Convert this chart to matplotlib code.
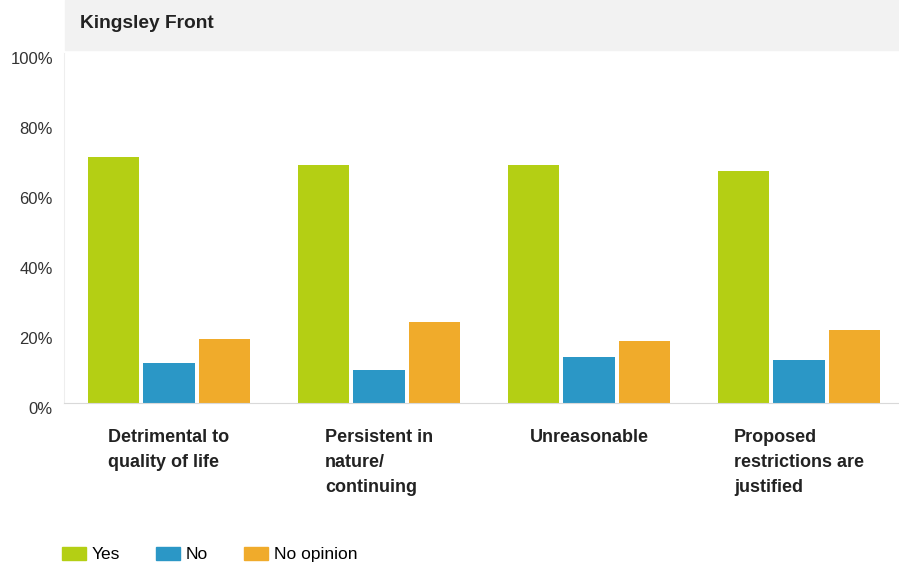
import matplotlib
matplotlib.use('Agg')
import matplotlib.pyplot as plt
import matplotlib.patches as mpatches
import matplotlib.transforms as mtransforms
import numpy as np

plt.rcParams['font.family'] = ['Liberation Sans', 'DejaVu Sans']

categories = ['Detrimental to\nquality of life', 'Persistent in\nnature/\ncontinuing',
              'Unreasonable', 'Proposed\nrestrictions are\njustified']
series_names = ['Yes', 'No', 'No opinion']
yes_vals = [70.3, 68.0, 68.0, 66.3]
no_vals = [11.4, 9.4, 13.1, 12.3]
noop_vals = [18.3, 23.1, 17.7, 20.9]
yticks = [0, 20, 40, 60, 80, 100]
ytick_labels = ['0%', '20%', '40%', '60%', '80%', '100%']

colors = ['#b4cf14', '#2b97c6', '#f0ab2b']

W, H = 899, 562
fig = plt.figure(figsize=(W / 100, H / 100), dpi=100)

# light gray header band
fig.patches.append(mpatches.Rectangle((65 / W, 1 - 50 / H), 1, 50 / H,
                                      transform=fig.transFigure, color='#f2f2f2', zorder=0))
fig.text(80 / W, 1 - 23 / H, 'Kingsley Front', fontsize=13.8, fontweight='bold',
         color='#222222', va='center', ha='left')

ax = fig.add_axes([64 / W, 1 - 403 / H, 1 - 64 / W, 350 / H])
x = np.arange(len(categories))
width = 0.245
offset = 0.265
for i, (vals, name) in enumerate(zip([yes_vals, no_vals, noop_vals], series_names)):
    ax.bar(x + (i - 1) * offset, vals, width, color=colors[i], label=name, zorder=2)

ax.set_xlim(-0.5, 3.476)
ax.set_ylim(0, 100)
ax.set_yticks(yticks)
ax.set_yticklabels(ytick_labels, fontsize=12, color='#333333')
ax.tick_params(axis='y', length=0, pad=8)
ax.tick_params(axis='x', length=0)
ax.set_xticks([])
shift = mtransforms.ScaledTranslation(0, -5 / 100, fig.dpi_scale_trans)
for lab in ax.get_yticklabels():
    lab.set_transform(lab.get_transform() + shift)

for s in ['top', 'right']:
    ax.spines[s].set_visible(False)
ax.spines['left'].set_color('#eeeeee')
ax.spines['bottom'].set_color('#d9d9d9')

for xi, cat in zip(x, categories):
    ax.text(xi, -7.3, cat, ha='center', va='top', multialignment='left',
            fontsize=13, fontweight='bold', color='#222222', linespacing=1.62)

handles = [mpatches.Patch(color=c) for c in colors]
fig.legend(handles, series_names, loc='lower left', bbox_to_anchor=(46 / W, -16 / H),
           ncol=3, frameon=False, fontsize=12.5, handlelength=1.4, handleheight=0.8,
           handletextpad=0.3, columnspacing=2.1)

fig.savefig('out.png', dpi=100)
